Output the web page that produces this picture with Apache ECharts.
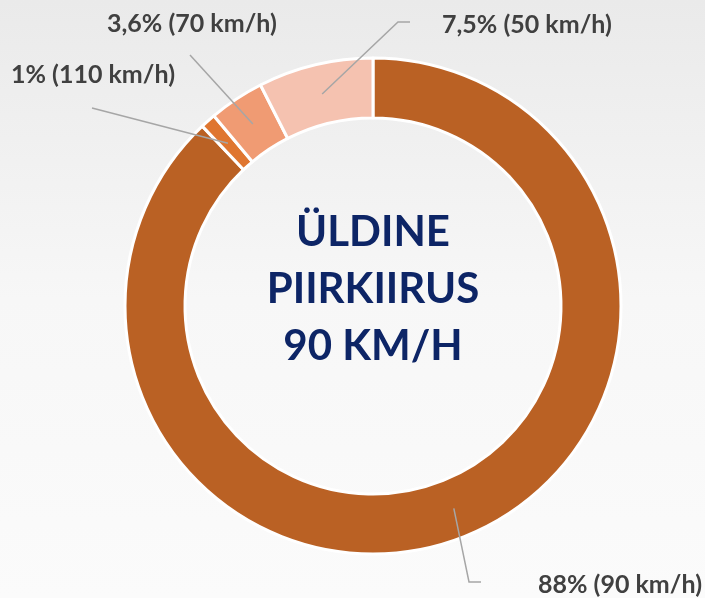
<!DOCTYPE html>
<html>
<head>
<meta charset="utf-8">
<script src="https://cdn.jsdelivr.net/npm/echarts@6/dist/echarts.min.js"></script>
<style>
  html, body { margin: 0; padding: 0; }
  #chart { width: 705px; height: 598px; }
</style>
</head>
<body>
<div id="chart"></div>
<script>
// speed limits and their share of road length
const speeds = ['90 km/h', '110 km/h', '70 km/h', '50 km/h'];
const shares = [88, 1, 3.6, 7.5];
const shareLabels = ['88%', '1%', '3,6%', '7,5%'];
const sliceColors = ['#BA6124', '#DF7630', '#F09B73', '#F5C2B0'];

const cx = 373, cy = 306, rIn = 188, rOut = 248;

// where each label sits and where its leader line bends / ends
const labelPos = [
  { x: 538, y: 585, bend: [469, 582], end: [481, 582] },
  { x: 11, y: 75, bend: [92, 108], end: [92, 108] },
  { x: 107, y: 24, bend: [190, 55], end: [190, 55] },
  { x: 442, y: 25, bend: [398, 22], end: [410, 22] }
];

const total = shares.reduce((a, b) => a + b, 0);
function midPoint(i) {
  let before = 0;
  for (let k = 0; k < i; k++) before += shares[k];
  const ang = (before + shares[i] / 2) / total * 2 * Math.PI;
  const r = (rIn + rOut) / 2;
  return [cx + r * Math.sin(ang), cy - r * Math.cos(ang)];
}

const leaders = shares.map((v, i) => ({
  type: 'polyline',
  z: 10,
  shape: { points: [midPoint(i), labelPos[i].bend, labelPos[i].end] },
  style: { stroke: '#A6A6A6', lineWidth: 1.5, fill: null }
}));

const chart = echarts.init(document.getElementById('chart'));
chart.setOption({
  backgroundColor: {
    type: 'linear', x: 0, y: 0, x2: 0, y2: 1,
    colorStops: [
      { offset: 0, color: '#EAEAEA' },
      { offset: 0.5, color: '#F7F7F7' },
      { offset: 1, color: '#FBFBFB' }
    ]
  },
  graphic: [{
    type: 'text',
    x: cx, y: 289,
    style: {
      text: 'ÜLDINE\nPIIRKIIRUS\n90 KM/H',
      align: 'center',
      verticalAlign: 'middle',
      fill: '#0D2566',
      font: 'bold 42px Lato',
      lineHeight: 57
    }
  }].concat(leaders),
  series: [{
    type: 'pie',
    center: [cx, cy],
    radius: [rIn, rOut],
    startAngle: 90,
    clockwise: true,
    animation: false,
    silent: true,
    itemStyle: { borderColor: '#FFFFFF', borderWidth: 3 },
    label: {
      show: true,
      position: 'outside',
      overflow: 'none',
      width: 220,
      formatter: p => shareLabels[p.dataIndex] + ' (' + speeds[p.dataIndex] + ')',
      color: '#404040',
      fontFamily: 'Lato',
      fontWeight: 'bold',
      fontSize: 25
    },
    labelLine: { show: false },
    labelLayout: p => {
      const l = labelPos[p.dataIndex];
      return { x: l.x, y: l.y, align: 'left', verticalAlign: 'middle' };
    },
    data: shares.map((v, i) => ({
      value: v, name: speeds[i], itemStyle: { color: sliceColors[i] }
    }))
  }]
});
</script>
</body>
</html>
